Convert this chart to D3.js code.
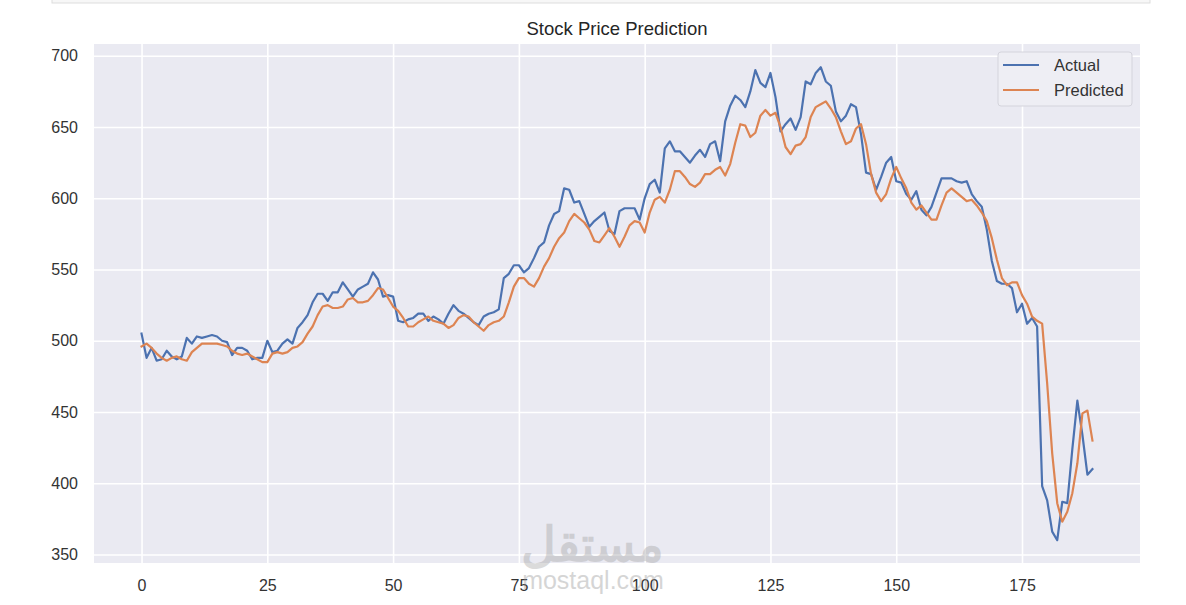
<!DOCTYPE html>
<html>
<head>
<meta charset="utf-8">
<script src="https://cdn.jsdelivr.net/npm/d3@7"></script>
<style>
  body { margin: 0; background: #ffffff; }
  text { font-family: "Liberation Sans", Arial, sans-serif; }
</style>
</head>
<body>
<svg id="canvas"></svg>
<script>
// values, one per day index 0..189
let actual = [
  505, 488, 495, 486, 487, 493, 489, 487, 489, 502,
  498, 503, 502, 503, 504, 503, 500, 499, 490, 495,
  495, 493, 487, 488, 488, 500, 492, 493, 498, 501,
  498, 509, 513, 518, 527, 533, 533, 528, 534, 534,
  541, 536, 531, 536, 538, 540, 548, 543, 531, 532,
  531, 514, 513, 515, 516, 519, 519, 514, 517, 515,
  512, 519, 525, 521, 519, 516, 513, 511, 517, 519,
  520, 522, 544, 547, 553, 553, 548, 551, 558, 566,
  569, 581, 589, 591, 607, 606, 597, 598, 589, 580,
  584, 587, 590, 577, 575, 591, 593, 593, 593, 585,
  600, 610, 613, 604, 635, 640, 633, 633, 629, 625,
  630, 634, 629, 638, 640, 626, 654, 665, 672, 669,
  664, 675, 690, 681, 678, 688, 671, 647, 652, 656,
  648, 657, 682, 680, 688, 692, 682, 679, 661, 654,
  658, 666, 664, 645, 618, 617, 606, 615, 625, 629,
  612, 611, 603, 599, 605, 592, 588, 594, 604, 614,
  614, 614, 612, 611, 612, 603, 598, 594, 578, 556,
  542, 540, 540, 537, 520, 526, 512, 516, 510, 398,
  388, 366, 360, 387, 386, 424, 458, 434, 406, 410
];

let predicted = [
  496, 498, 495, 491, 488, 486, 488, 489, 487, 486,
  492, 495, 498, 498, 498, 498, 497, 496, 493, 491,
  490, 491, 489, 487, 485, 485, 491, 492, 491, 492,
  495, 496, 499, 505, 510, 518, 524, 525, 523, 523,
  524, 529, 530, 527, 527, 528, 532, 537, 536, 530,
  524, 521, 516, 510, 510, 513, 515, 517, 514, 513,
  512, 509, 511, 516, 518, 517, 513, 510, 507, 511,
  513, 514, 517, 527, 538, 544, 544, 540, 538, 544,
  552, 558, 566, 572, 576, 584, 589, 586, 583, 578,
  570, 569, 574, 579, 573, 566, 573, 581, 584, 583,
  576, 590, 599, 601, 597, 606, 619, 619, 615, 610,
  608, 611, 617, 617, 620, 622, 616, 624, 639, 652,
  651, 643, 646, 658, 662, 658, 660, 650, 636, 631,
  637, 638, 643, 657, 664, 666, 668, 663, 657, 647,
  638, 640, 649, 652, 638, 617, 604, 598, 603, 614,
  622, 614, 607, 597, 592, 595, 590, 585, 585, 595,
  604, 607, 604, 601, 598, 599, 595, 590, 584, 572,
  557, 544, 539, 541, 541, 532, 526, 517, 514, 512,
  470, 421, 386, 373, 380, 393, 414, 449, 451, 430
];

let xTicks = [0, 25, 50, 75, 100, 125, 150, 175];
let yTicks = [350, 400, 450, 500, 550, 600, 650, 700];
let seriesNames = ["Actual", "Predicted"];
let seriesColors = ["#4c72b0", "#dd8452"];

let width = 1186;
let height = 605;

let plotLeft = 94;
let plotRight = 1140;
let plotTop = 44;
let plotBottom = 563;

let xScale;
let yScale;

let canvas = d3.select("#canvas");
canvas.attr("width", width)
canvas.attr("height", height)

let generateScales = () => {
    let n = actual.length - 1
    let xPad = n * 0.05

    xScale = d3.scaleLinear()
               .domain([-xPad, n + xPad])
               .range([plotLeft, plotRight])

    yScale = d3.scaleLinear()
               .domain([344, 708.3])
               .range([plotBottom, plotTop])
}

let drawFrame = () => {
    // strip of the page box above the figure
    canvas.append("rect")
          .attr("x", 52)
          .attr("y", -3)
          .attr("width", 1098)
          .attr("height", 6)
          .attr("fill", "#f7f7f7")
          .attr("stroke", "#dddddd")

    canvas.append("rect")
          .attr("x", plotLeft)
          .attr("y", plotTop)
          .attr("width", plotRight - plotLeft)
          .attr("height", plotBottom - plotTop)
          .attr("fill", "#eaeaf2")

    canvas.append("text")
          .attr("x", 617)
          .attr("y", 34.5)
          .attr("text-anchor", "middle")
          .attr("font-size", "18.5px")
          .attr("fill", "#262626")
          .text("Stock Price Prediction")
}

let drawAxes = () => {
    let xAxis = d3.axisBottom(xScale)
                  .tickValues(xTicks)
                  .tickFormat(d3.format("d"))
                  .tickSizeInner(-(plotBottom - plotTop))
                  .tickSizeOuter(0)
                  .tickPadding(17)

    let yAxis = d3.axisLeft(yScale)
                  .tickValues(yTicks)
                  .tickFormat(d3.format("d"))
                  .tickSizeInner(-(plotRight - plotLeft))
                  .tickSizeOuter(0)
                  .tickPadding(16)

    let gx = canvas.append("g")
                   .attr("id", "x-axis")
                   .attr("transform", "translate(0," + plotBottom + ")")
                   .call(xAxis)

    let gy = canvas.append("g")
                   .attr("id", "y-axis")
                   .attr("transform", "translate(" + plotLeft + ",0)")
                   .call(yAxis)

    for (let g of [gx, gy]) {
        g.select(".domain").remove()
        g.selectAll(".tick line")
         .attr("stroke", "#ffffff")
         .attr("stroke-width", 1.6)
        g.selectAll(".tick text")
         .attr("font-size", "16px")
         .attr("font-family", "'Liberation Sans', Arial, sans-serif")
         .attr("fill", "#333333")
    }
}

let drawWatermark = () => {
    canvas.append("text")
          .attr("x", 592)
          .attr("y", 561)
          .attr("text-anchor", "middle")
          .attr("font-size", "48px")
          .attr("font-weight", "bold")
          .attr("font-family", "'DejaVu Sans', sans-serif")
          .attr("fill", "#999999")
          .attr("opacity", 0.35)
          .text("مستقل")

    canvas.append("text")
          .attr("x", 593)
          .attr("y", 589)
          .attr("text-anchor", "middle")
          .attr("font-size", "25px")
          .attr("fill", "#999999")
          .attr("opacity", 0.4)
          .text("mostaql.com")
}

let drawLines = () => {
    let line = d3.line()
                 .x((d, i) => xScale(i))
                 .y((d) => yScale(d))

    let series = [actual, predicted]

    canvas.append("g")
          .selectAll("path")
          .data(series)
          .enter()
          .append("path")
          .attr("d", (d) => line(d))
          .attr("fill", "none")
          .attr("stroke", (d, i) => seriesColors[i])
          .attr("stroke-width", 2.2)
          .attr("stroke-linejoin", "round")
          .attr("stroke-linecap", "square")
}

let drawLegend = () => {
    let legend = canvas.append("g")
                       .attr("transform", "translate(998,52)")

    legend.append("rect")
          .attr("width", 134)
          .attr("height", 54)
          .attr("rx", 3)
          .attr("fill", "#eeeef4")
          .attr("stroke", "#d4d4dc")
          .attr("stroke-width", 1)

    let items = legend.selectAll("g.item")
                      .data(seriesNames)
                      .enter()
                      .append("g")
                      .attr("class", "item")
                      .attr("transform", (d, i) => "translate(0," + (13 + i * 25) + ")")

    items.append("line")
         .attr("x1", 5)
         .attr("x2", 41)
         .attr("y1", 0)
         .attr("y2", 0)
         .attr("stroke", (d, i) => seriesColors[i])
         .attr("stroke-width", 2.2)

    items.append("text")
         .attr("x", 56)
         .attr("y", 6)
         .attr("font-size", "16.5px")
         .attr("fill", "#333333")
         .text((d) => d)
}

generateScales();
drawFrame();
drawAxes();
drawWatermark();
drawLines();
drawLegend();
</script>
</body>
</html>
